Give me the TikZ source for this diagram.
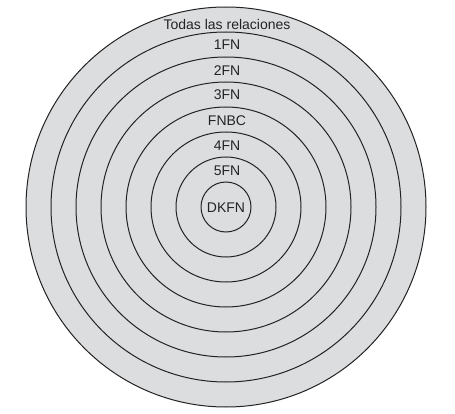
\documentclass[tikz,border=0pt]{standalone}
\usepackage{fontspec}
\setmainfont{Liberation Sans}
\definecolor{ringfill}{RGB}{220,221,223}
\definecolor{ringline}{RGB}{35,35,35}
\begin{document}
\begin{tikzpicture}[x=1pt,y=-1pt,
  ring/.style={draw=ringline,line width=1pt,fill=ringfill},
  lbl/.style={anchor=base,inner sep=0pt,font=\fontsize{14}{16}\selectfont,text=ringline}]
\useasboundingbox (0,0) rectangle (455,414);
\coordinate (c) at (226,207);
\foreach \r in {200,175,150,125,100,75,50,25}{
  \draw[ring] (c) circle[radius=\r];
}
\node[lbl] (t0) at (227,29.5) {Todas las relaciones};
\node[lbl] (t1) at (227,49.5) {1FN};
\node[lbl] (t2) at (227,76) {2FN};
\node[lbl] (t3) at (227,99.5) {3FN};
\node[lbl] (t4) at (227,125.5) {FNBC};
\node[lbl] (t5) at (227,150.5) {4FN};
\node[lbl] (t6) at (227,175.5) {5FN};
\node[lbl] (t7) at (226,212) {DKFN};
\end{tikzpicture}
\end{document}
